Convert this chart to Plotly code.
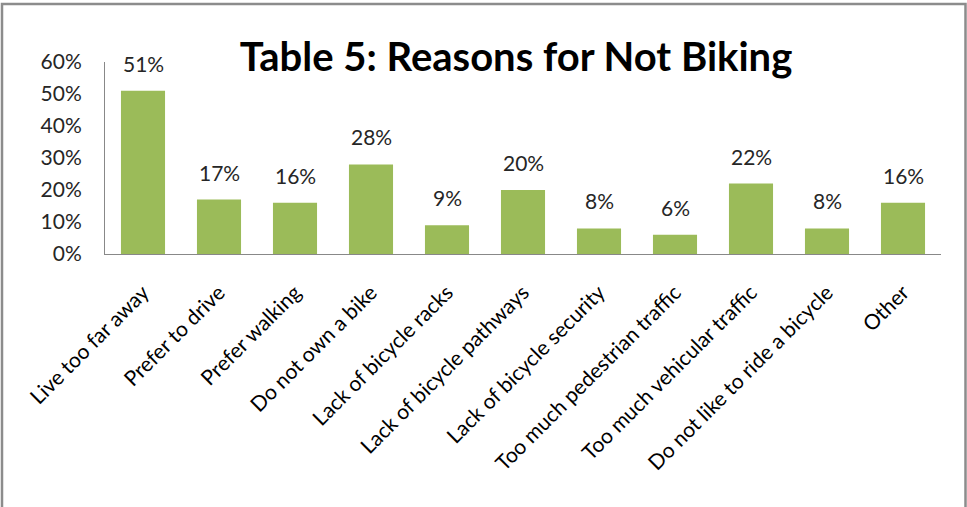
import plotly.graph_objects as go

categories = ["Live too far away", "Prefer to drive", "Prefer walking", "Do not own a bike",
              "Lack of bicycle racks", "Lack of bicycle pathways", "Lack of bicycle security",
              "Too much pedestrian traffic", "Too much vehicular traffic",
              "Do not like to ride a bicycle", "Other"]
values = [0.51, 0.17, 0.16, 0.28, 0.09, 0.20, 0.08, 0.06, 0.22, 0.08, 0.16]
y_ticks = [0, 0.1, 0.2, 0.3, 0.4, 0.5, 0.6]

W, H = 967, 507
L, R, T, B = 105, 26, 62, 253
pw, ph = W - L - R, H - T - B
FONT = "Lato"

fig = go.Figure(go.Bar(
    x=categories, y=values,
    marker=dict(color="#9BBB59", line=dict(width=0)),
    cliponaxis=False,
))

for c, v in zip(categories, values):
    fig.add_annotation(x=c, y=v, text=f"{round(v * 100)}%", showarrow=False,
                       yanchor="bottom", yshift=13,
                       font=dict(family=FONT, size=21, color="#262626"))

def px_x(x):
    return (x - L) / pw

def px_y(y):
    return (H - B - y) / ph

fig.update_layout(
    width=W, height=H,
    margin=dict(l=L, r=R, t=T, b=B, autoexpand=False),
    paper_bgcolor="white", plot_bgcolor="white",
    bargap=0.42,
    showlegend=False,
    title=dict(text="<b>Table 5: Reasons for Not Biking</b>",
               font=dict(family=FONT, size=40, color="black"),
               x=516 / W, xanchor="center", y=1 - 57 / H, yanchor="middle",
               xref="container", yref="container"),
    xaxis=dict(showline=True, linecolor="#888888", linewidth=1, showgrid=False,
               tickangle=-45, ticks="outside", ticklen=17, tickcolor="rgba(0,0,0,0)",
               tickfont=dict(family=FONT, size=21, color="black")),
    yaxis=dict(range=[0, 0.6], tickvals=y_ticks, tickformat=".0%",
               showline=True, linecolor="#888888", linewidth=1, showgrid=False,
               zeroline=False, ticks="outside", ticklen=18, tickcolor="rgba(0,0,0,0)",
               tickfont=dict(family=FONT, size=21, color="#262626")),
    shapes=[dict(type="rect", xref="paper", yref="paper",
                 x0=px_x(2), x1=px_x(965.5), y0=px_y(515), y1=px_y(4),
                 line=dict(color="#8c8c8c", width=2.5), fillcolor="rgba(0,0,0,0)",
                 layer="below")],
)

fig.write_html("out.html", config={"displayModeBar": False},
               post_script="document.body.style.margin='0';")
